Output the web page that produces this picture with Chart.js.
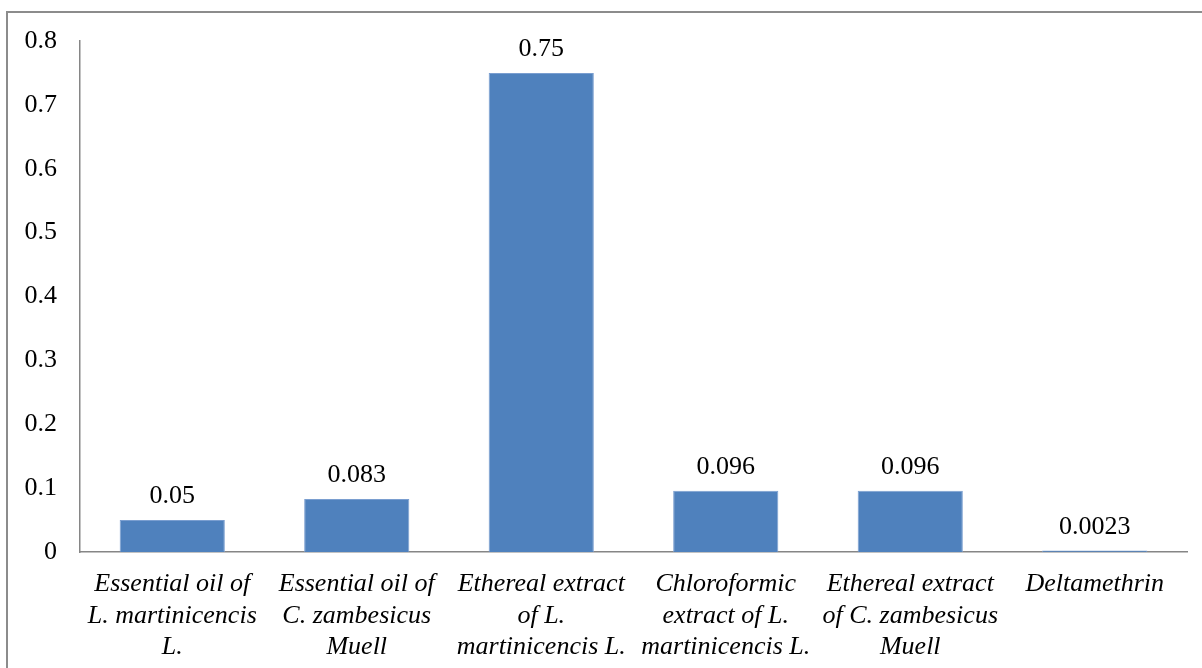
<!DOCTYPE html>
<html>
<head>
<meta charset="utf-8">
<script src="https://cdn.jsdelivr.net/npm/chart.js@4/dist/chart.umd.min.js"></script>
<style>
  html, body { margin: 0; padding: 0; background: #fff; overflow: hidden; }
  #wrap { position: relative; width: 1202px; height: 668px; }
  #frame { position: absolute; left: 6px; top: 11px; width: 1400px; height: 900px;
           border-left: 2px solid #8c8c8c; border-top: 2px solid #8c8c8c; }
  canvas { position: absolute; left: 0; top: 0; }
</style>
</head>
<body>
<div id="wrap">
  <div id="frame"></div>
  <canvas id="c" width="1202" height="668"></canvas>
</div>
<script>
// LC50 values per treatment
const categories = [
  ["Essential oil of", "L. martinicencis", "L."],
  ["Essential oil of", "C. zambesicus", "Muell"],
  ["Ethereal extract", "of L.", "martinicencis L."],
  ["Chloroformic", "extract of L.", "martinicencis L."],
  ["Ethereal extract", "of C. zambesicus", "Muell"],
  ["Deltamethrin"]
];
const values = [0.05, 0.083, 0.75, 0.096, 0.096, 0.0023];
const valueLabels = ["0.05", "0.083", "0.75", "0.096", "0.096", "0.0023"];

const serif = "'Liberation Serif', 'Times New Roman', serif";

// Writes each bar's value above it
const barValues = {
  id: 'barValues',
  afterDatasetsDraw(chart) {
    const ctx = chart.ctx;
    const meta = chart.getDatasetMeta(0);
    ctx.save();
    ctx.font = "26px " + serif;
    ctx.fillStyle = '#000';
    ctx.textAlign = 'center';
    ctx.textBaseline = 'alphabetic';
    meta.data.forEach((bar, i) => {
      ctx.fillText(valueLabels[i], bar.x, bar.y - 17);
    });
    ctx.restore();
  }
};

new Chart(document.getElementById('c'), {
  type: 'bar',
  data: {
    labels: categories,
    datasets: [{
      data: values,
      backgroundColor: '#4F81BD',
      borderColor: '#7A9ED0',
      borderWidth: 1,
      categoryPercentage: 1,
      barPercentage: 0.57
    }]
  },
  options: {
    responsive: false,
    animation: false,
    events: [],
    layout: { padding: { left: 0, top: 41, right: 15, bottom: 0 } },
    plugins: { legend: { display: false }, tooltip: { enabled: false } },
    scales: {
      x: {
        grid: { display: false, drawTicks: false },
        border: { display: true, color: '#868686', width: 1.5 },
        ticks: {
          color: '#000',
          maxRotation: 0,
          autoSkip: false,
          padding: 17,
          font: { family: serif, size: 26, style: 'italic', lineHeight: 1.2 }
        },
        afterFit(s) { s.height = 116; }
      },
      y: {
        min: 0,
        max: 0.8,
        grid: { display: false, drawTicks: false },
        border: { display: true, color: '#868686', width: 1.5 },
        ticks: {
          stepSize: 0.1,
          color: '#000',
          padding: 23,
          font: { family: serif, size: 26 },
          callback: v => String(+v.toFixed(1))
        },
        afterFit(s) { s.width = 80; }
      }
    }
  },
  plugins: [barValues]
});
</script>
</body>
</html>
